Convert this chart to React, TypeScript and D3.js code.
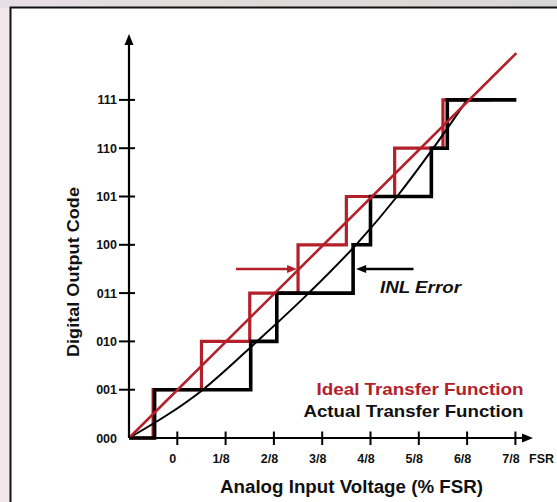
import React from "react";
import * as d3 from "d3";

// ---- data ----
const xTickValues = [0, 1, 2, 3, 4, 5, 6, 7];
const xTickLabels = ["0", "1/8", "2/8", "3/8", "4/8", "5/8", "6/8", "7/8"];
const yTickValues = [0, 1, 2, 3, 4, 5, 6, 7];
const yTickLabels = ["000", "001", "010", "011", "100", "101", "110", "111"];

// ideal transfer function: code transitions (in 1/8 FSR units)
const idealTransitions = [-0.5, 0.5, 1.5, 2.5, 3.5, 4.5, 5.5];
const idealStart = -1;
const idealEnd = 6.5;
// ideal straight line endpoints
const idealLineX = [-1, 7.02];
const idealLineY = [0, 7.97];

// actual transfer function transitions
const actualTransitions = [-0.47, 1.52, 2.06, 3.64, 4.0, 5.26, 5.59];
const actualStart = -1;
const actualEnd = 7.02;
// actual (bowed) curve
const curveX = [-1, 0.53, 1.65, 2.72, 3.7, 4.55, 5.3, 6.0];
const curveY = [0, 1, 2, 3, 4, 5, 6, 7];

const RED = "#b3202a";
const FONT = "'Liberation Sans', Arial, Helvetica, sans-serif";

function stairs(start: number, transitions: number[], end: number): [number, number][] {
  const pts: [number, number][] = [[start, 0]];
  transitions.forEach((t, i) => {
    pts.push([t, i]);
    pts.push([t, i + 1]);
  });
  pts.push([end, transitions.length]);
  return pts;
}

export default function App() {
  const W = 557, H = 502;
  const x = d3.scaleLinear().domain([-1, 7]).range([129, 515.4]);
  const y = d3.scaleLinear().domain([0, 7]).range([438, 99.9]);

  const lineGen = d3.line<[number, number]>().x((d) => x(d[0])).y((d) => y(d[1]));
  const curveGen = d3
    .line<[number, number]>()
    .x((d) => x(d[0]))
    .y((d) => y(d[1]))
    .curve(d3.curveMonotoneX);

  const idealPts = stairs(idealStart, idealTransitions, idealEnd);
  const actualPts = stairs(actualStart, actualTransitions, actualEnd);
  const curvePts: [number, number][] = curveX.map((v, i) => [v, curveY[i]]);
  const idealLinePts: [number, number][] = idealLineX.map((v, i) => [v, idealLineY[i]]);

  const x0 = x(-1);
  const yAxisTop = 34;
  const xAxisEnd = 533;

  const arrowY = y(3.5);

  return (
    <svg
      width={W}
      height={H}
      style={{ position: "absolute", left: 0, top: 0 }}
      xmlns="http://www.w3.org/2000/svg"
    >
      <defs>
        <linearGradient id="topg" x1="0" x2="1" y1="0" y2="0">
          <stop offset="0" stopColor="#e8dfe4" />
          <stop offset="0.5" stopColor="#dedad9" />
          <stop offset="1" stopColor="#d9d6d6" />
        </linearGradient>
      </defs>
      <rect x={0} y={0} width={W} height={H} fill="#f1e8ee" />
      <rect x={0} y={0} width={W} height={8} fill="url(#topg)" />
      <rect x={10.5} y={7.5} width={W + 10} height={H + 10} fill="#ffffff" stroke="#111" strokeWidth={2} />

      {/* ideal staircase */}
      <path d={lineGen(idealPts) || ""} fill="none" stroke={RED} strokeWidth={3.2} strokeLinejoin="miter" />
      {/* actual staircase */}
      <path d={lineGen(actualPts) || ""} fill="none" stroke="#000" strokeWidth={3.6} strokeLinejoin="miter" />
      {/* actual curve */}
      <path d={curveGen(curvePts) || ""} fill="none" stroke="#000" strokeWidth={2} />
      {/* ideal line */}
      <path d={lineGen(idealLinePts) || ""} fill="none" stroke={RED} strokeWidth={2.6} />

      {/* axes */}
      <line x1={x0} y1={y(0)} x2={x0} y2={yAxisTop + 8} stroke="#000" strokeWidth={2.2} />
      <path d={`M${x0},${yAxisTop} L${x0 - 4.5},${yAxisTop + 11} L${x0 + 4.5},${yAxisTop + 11} Z`} fill="#000" />
      <line x1={x0} y1={y(0)} x2={xAxisEnd - 8} y2={y(0)} stroke="#000" strokeWidth={2.2} />
      <path d={`M${xAxisEnd},${y(0)} L${xAxisEnd - 11},${y(0) - 4.5} L${xAxisEnd - 11},${y(0) + 4.5} Z`} fill="#000" />

      {/* y ticks */}
      {yTickValues.map((v, i) => (
        <g key={"yt" + i}>
          {v > 0 && (
            <line x1={x0 - 10} x2={x0 + 6} y1={y(v)} y2={y(v)} stroke="#000" strokeWidth={2} />
          )}
          <text
            x={117}
            y={y(v)}
            dy="0.36em"
            textAnchor="end"
            fontFamily={FONT}
            fontWeight="bold"
            fontSize={12.5}
            fill="#111"
          >
            {yTickLabels[i]}
          </text>
        </g>
      ))}

      {/* x ticks */}
      {xTickValues.map((v, i) => (
        <g key={"xt" + i}>
          <line x1={x(v)} x2={x(v)} y1={y(0) - 6.5} y2={y(0) + 7} stroke="#000" strokeWidth={2} />
          <text
            x={x(v) - 4.5}
            y={463}
            textAnchor="middle"
            fontFamily={FONT}
            fontWeight="bold"
            fontSize={12.5}
            fill="#111"
          >
            {xTickLabels[i]}
          </text>
        </g>
      ))}
      <text x={541.5} y={463} textAnchor="middle" fontFamily={FONT} fontWeight="bold" fontSize={12.5} fill="#111">
        FSR
      </text>

      {/* axis titles */}
      <text
        x={351.5}
        y={493}
        textAnchor="middle"
        fontFamily={FONT}
        fontWeight="bold"
        fontSize={18}
        fill="#111"
        textLength={263}
        lengthAdjust="spacingAndGlyphs"
      >
        Analog Input Voltage (% FSR)
      </text>
      <text
        transform={`translate(79,272) rotate(-90)`}
        textAnchor="middle"
        fontFamily={FONT}
        fontWeight="bold"
        fontSize={17}
        fill="#111"
        textLength={170}
        lengthAdjust="spacingAndGlyphs"
      >
        Digital Output Code
      </text>

      {/* INL arrows */}
      <line x1={236} y1={arrowY} x2={290} y2={arrowY} stroke={RED} strokeWidth={2.4} />
      <path d={`M${x(2.5) - 1},${arrowY} L${x(2.5) - 11},${arrowY - 4} L${x(2.5) - 11},${arrowY + 4} Z`} fill={RED} />
      <line x1={413.5} y1={arrowY} x2={362} y2={arrowY} stroke="#000" strokeWidth={2.4} />
      <path d={`M${x(3.64) + 3},${arrowY} L${x(3.64) + 13},${arrowY - 4} L${x(3.64) + 13},${arrowY + 4} Z`} fill="#000" />
      <text
        x={380}
        y={293}
        fontFamily={FONT}
        fontWeight="bold"
        fontStyle="italic"
        fontSize={16}
        fill="#111"
        textLength={81}
        lengthAdjust="spacingAndGlyphs"
      >
        INL Error
      </text>

      {/* legend */}
      <text
        x={316.5}
        y={395}
        fontFamily={FONT}
        fontWeight="bold"
        fontSize={17}
        fill={RED}
        textLength={207}
        lengthAdjust="spacingAndGlyphs"
      >
        Ideal Transfer Function
      </text>
      <text
        x={303.5}
        y={417}
        fontFamily={FONT}
        fontWeight="bold"
        fontSize={17}
        fill="#111"
        textLength={220}
        lengthAdjust="spacingAndGlyphs"
      >
        Actual Transfer Function
      </text>
    </svg>
  );
}
